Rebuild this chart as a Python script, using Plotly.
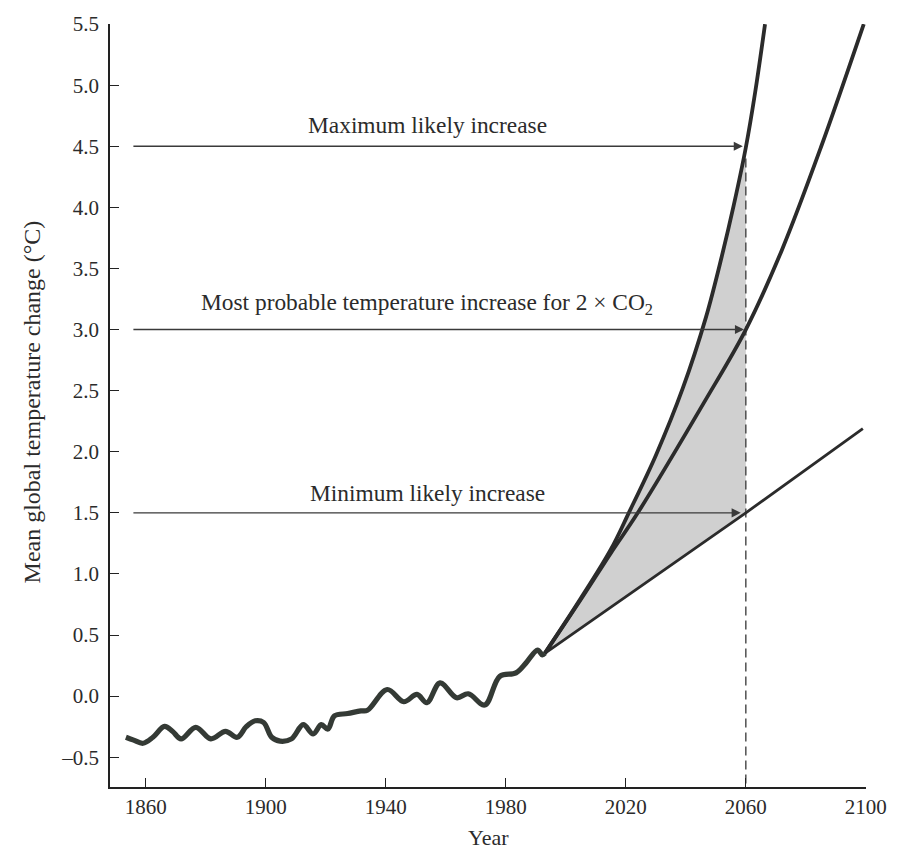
import plotly.graph_objects as go

# ---------------- data ----------------
hist_years = [1853.4, 1856, 1859.1, 1862.4, 1866.3, 1869, 1871.8, 1876.7, 1881.7, 1886.6,
              1890.5, 1893.5, 1896.5, 1899.3, 1902, 1904.8, 1908.6, 1912.5, 1915.8, 1918.5,
              1920.7, 1922.9, 1927.3, 1931.7, 1933.9, 1940.5, 1946, 1950.4, 1953.7, 1958.1,
              1963.6, 1967.5, 1973, 1978, 1983.4, 1986.7, 1990.6, 1992.2, 1993]
hist_temp = [-0.337, -0.36, -0.386, -0.337, -0.248, -0.29, -0.35, -0.256, -0.35, -0.288,
             -0.337, -0.25, -0.202, -0.216, -0.337, -0.369, -0.35, -0.234, -0.31, -0.234,
             -0.27, -0.162, -0.143, -0.121, -0.116, 0.054, -0.046, 0.014, -0.054, 0.108,
             -0.014, 0.019, -0.073, 0.162, 0.19, 0.27, 0.377, 0.337, 0.35]

max_years = [1993, 2005, 2015, 2021, 2030, 2039, 2046.7, 2052, 2056, 2060, 2063.1, 2066.4]
max_temp = [0.35, 0.8, 1.2, 1.5, 1.97, 2.52, 3.1, 3.6, 4.02, 4.49, 4.94, 5.5]

mid_years = [1993, 2005, 2015, 2024, 2046, 2060, 2072, 2085, 2099.3]
mid_temp = [0.35, 0.79, 1.17, 1.5, 2.40, 3.0, 3.65, 4.49, 5.5]

min_years = [1993, 2060, 2099]
min_temp = [0.35, 1.5, 2.19]

target_year = 2060
arrow_levels = [4.5, 3.0, 1.5]
arrow_labels = ["Maximum likely increase",
                "Most probable temperature increase for 2 × CO<sub>2</sub>",
                "Minimum likely increase"]

y_ticks = [-0.5, 0.0, 0.5, 1.0, 1.5, 2.0, 2.5, 3.0, 3.5, 4.0, 4.5, 5.0, 5.5]
y_ticktext = ["–0.5", "0.0", "0.5", "1.0", "1.5", "2.0", "2.5", "3.0", "3.5", "4.0", "4.5", "5.0", "5.5"]
x_ticks = [1860, 1900, 1940, 1980, 2020, 2060, 2100]

# ---------------- figure ----------------
FONT = "Liberation Serif"
INK = "#2b2b2b"
fig = go.Figure()

# shaded uncertainty band up to 2060
min_sub_x = [y for y in min_years if y <= target_year]
min_sub_y = [t for y, t in zip(min_years, min_temp) if y <= target_year]
max_sub_x = [y for y in max_years if y <= target_year]
max_sub_y = [t for y, t in zip(max_years, max_temp) if y <= target_year]
fig.add_trace(go.Scatter(x=min_sub_x, y=min_sub_y, mode="lines",
                         line=dict(width=0, color="rgba(0,0,0,0)"), showlegend=False, hoverinfo="skip"))
fig.add_trace(go.Scatter(x=max_sub_x, y=max_sub_y, mode="lines", fill="tonexty",
                         fillcolor="#d0d0d0", line=dict(width=0, color="rgba(0,0,0,0)", shape="spline", smoothing=1.0),
                         showlegend=False, hoverinfo="skip"))

# dashed vertical at 2060
fig.add_trace(go.Scatter(x=[target_year, target_year], y=[4.4, -0.744], mode="lines",
                         line=dict(color="#444444", width=1.4, dash="9px,5px"),
                         showlegend=False, hoverinfo="skip"))

# projection lines
fig.add_trace(go.Scatter(x=min_years, y=min_temp, mode="lines",
                         line=dict(color=INK, width=2.8), showlegend=False))
fig.add_trace(go.Scatter(x=mid_years, y=mid_temp, mode="lines",
                         line=dict(color=INK, width=3.8, shape="spline", smoothing=1.0), showlegend=False))
fig.add_trace(go.Scatter(x=max_years, y=max_temp, mode="lines",
                         line=dict(color=INK, width=3.8, shape="spline", smoothing=1.0), showlegend=False))

# historical record
fig.add_trace(go.Scatter(x=hist_years, y=hist_temp, mode="lines",
                         line=dict(color="#343a35", width=5.2, shape="spline", smoothing=1.0),
                         showlegend=False))

annotations = []
arrow_tips = [2059.0, 2059.4, 2058.3]
label_shift = [21, 26, 20]
for lvl, lab, tip, sh in zip(arrow_levels, arrow_labels, arrow_tips, label_shift):
    annotations.append(dict(x=tip, y=lvl, ax=1855.4, ay=lvl, xref="x", yref="y", axref="x", ayref="y",
                            text="", showarrow=True, arrowhead=2, arrowsize=1.3, arrowwidth=1.4,
                            arrowcolor="#3a3a3a", standoff=0))
    annotations.append(dict(x=1953.9, y=lvl, xref="x", yref="y", text=lab, showarrow=False,
                            xanchor="center", yanchor="middle", yshift=sh,
                            font=dict(family=FONT, size=23.4, color=INK)))

annotations.append(dict(x=0.5, y=-0.066, xref="paper", yref="paper", text="Year", showarrow=False,
                        xanchor="center", yanchor="middle", font=dict(family=FONT, size=22, color=INK)))
annotations.append(dict(x=-0.1035, y=0.505, xref="paper", yref="paper",
                        text="Mean global temperature change (°C)", textangle=-90, showarrow=False,
                        xanchor="center", yanchor="middle", font=dict(family=FONT, size=24, color=INK)))

fig.update_layout(
    width=899, height=858,
    margin=dict(l=110, r=26, t=15, b=71),
    paper_bgcolor="white", plot_bgcolor="white",
    annotations=annotations,
    showlegend=False,
    font=dict(family=FONT, color=INK),
)
fig.update_xaxes(range=[1848.1, 2100.05], tickvals=x_ticks, ticks="inside", ticklen=9, tickwidth=1.3,
                 tickcolor="#222", showline=True, linecolor="#222", linewidth=1.6, showgrid=False,
                 zeroline=False, tickfont=dict(family=FONT, size=21, color=INK), ticklabelstandoff=0)
fig.update_yaxes(range=[-0.744, 5.501], tickvals=y_ticks, ticktext=y_ticktext, ticks="inside", ticklen=9,
                 tickwidth=1.3, tickcolor="#222", showline=True, linecolor="#222", linewidth=1.6,
                 showgrid=False, zeroline=False, tickfont=dict(family=FONT, size=21, color=INK),
                 ticklabelstandoff=5)

fig.write_html("out.html")
